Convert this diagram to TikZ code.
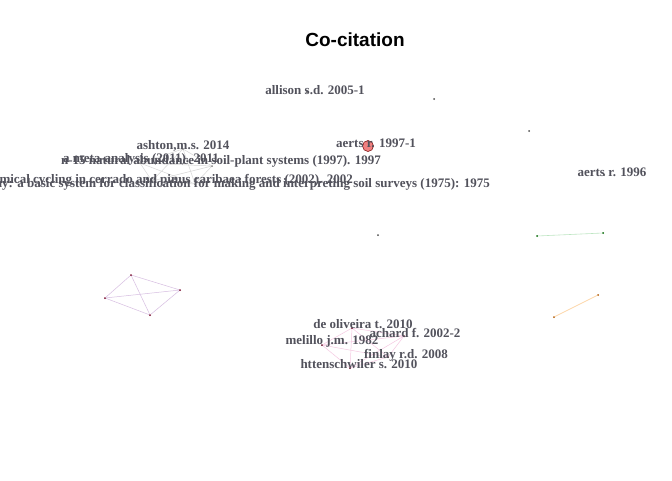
\documentclass[tikz,border=0pt]{standalone}
\usepackage{fontspec}
\setmainfont{Liberation Serif}
\newfontfamily\titlefont{Liberation Sans}
\definecolor{labcol}{RGB}{82,82,92}
\definecolor{greyedge}{RGB}{215,215,215}
\definecolor{pinkedge}{RGB}{245,200,225}
\definecolor{purpedge}{RGB}{215,190,225}
\definecolor{greenedge}{RGB}{190,230,195}
\definecolor{orangeedge}{RGB}{253,215,170}
\definecolor{rednode}{RGB}{240,128,128}
\begin{document}
\begin{tikzpicture}[x=1pt,y=-1pt,
  lab/.style={font=\bfseries\fontsize{13}{13}\selectfont, text=labcol, inner sep=0pt},
  dot/.style={circle, fill=#1, inner sep=0pt, minimum size=2pt},
  dot/.default={black!70}]
\useasboundingbox[fill=white] (0,0) rectangle (672,480);
\node[font=\titlefont\bfseries\fontsize{19}{19}\selectfont] (title) at (355,40) {Co-citation};

% grey cluster (left)
\node[dot=gray] (g1) at (140,163) {};
\node[dot=gray] (g2) at (183,149) {};
\node[dot=gray] (g3) at (212,166) {};
\node[dot=gray] (g4) at (152,181) {};
\node[dot=gray] (g5) at (195,184) {};
\foreach \a/\b in {g1/g2,g1/g3,g1/g4,g1/g5,g2/g3,g2/g4,g2/g5,g3/g4,g3/g5,g4/g5}
  \draw[greyedge, line width=0.5pt] (\a) -- (\b);

% purple cluster
\node[dot=purple!60!black] (p1) at (131,275) {};
\node[dot=purple!60!black] (p2) at (105,298) {};
\node[dot=purple!60!black] (p3) at (180,290) {};
\node[dot=purple!60!black] (p4) at (150,315) {};
\foreach \a/\b in {p1/p2,p1/p3,p1/p4,p2/p3,p2/p4,p3/p4}
  \draw[purpedge, line width=0.5pt] (\a) -- (\b);

% pink cluster (bottom)
\node[dot=purple!50!black] (k1) at (352,328) {};
\node[dot=purple!50!black] (k2) at (404,336) {};
\node[dot=purple!50!black] (k3) at (322,345) {};
\node[dot=purple!50!black] (k4) at (388,357) {};
\node[dot=purple!50!black] (k5) at (350,368) {};
\foreach \a/\b in {k1/k2,k1/k3,k1/k4,k1/k5,k2/k3,k2/k4,k2/k5,k3/k4,k3/k5,k4/k5}
  \draw[pinkedge, line width=0.5pt] (\a) -- (\b);

% green pair
\node[dot=green!40!black] (gr1) at (537,236) {};
\node[dot=green!40!black] (gr2) at (603,233) {};
\draw[greenedge, line width=0.6pt] (gr1) -- (gr2);

% orange pair
\node[dot=orange!70!black] (o1) at (554,317) {};
\node[dot=orange!70!black] (o2) at (598,295) {};
\draw[orangeedge, line width=0.8pt] (o1) -- (o2);

% isolated dots
\node[dot] (i1) at (434,99) {};
\node[dot] (i2) at (529,131) {};
\node[dot] (i3) at (378,235) {};
\node[dot] (i4) at (307,92) {};
\node[dot] (i5) at (604,175) {};

% red node
\node[circle, draw=red!45!black, fill=rednode, minimum size=11pt, inner sep=0pt, line width=0.5pt] (r1) at (368,146) {};

% labels
\node[lab] (l1) at (315,90) {allison s.d. 2005-1};
\node[lab] (l2) at (376,143) {aerts r. 1997-1};
\node[lab] (l3) at (612,172) {aerts r. 1996};
\node[lab] (l4) at (183,146) {ashton,m.s. 2014};
\node[lab] (l5) at (141,159) {a meta-analysis (2011). 2011};
\node[lab] (l6) at (221,161) {n-15 natural abundance in soil-plant systems (1997). 1997};
\node[lab, anchor=east] (l7) at (353,180) {biogeochemical cycling in cerrado and pinus caribaea forests (2002). 2002};
\node[lab, anchor=east] (l8) at (490,184) {soil taxonomy: a basic system for classification for making and interpreting soil surveys (1975): 1975};
\node[lab] (l9) at (363,324) {de oliveira t. 2010};
\node[lab] (l10) at (415,333) {achard f. 2002-2};
\node[lab] (l11) at (332,341) {melillo j.m. 1982};
\node[lab] (l12) at (406,355) {finlay r.d. 2008};
\node[lab] (l13) at (359,364) {httenschwiler s. 2010};
\end{tikzpicture}
\end{document}
